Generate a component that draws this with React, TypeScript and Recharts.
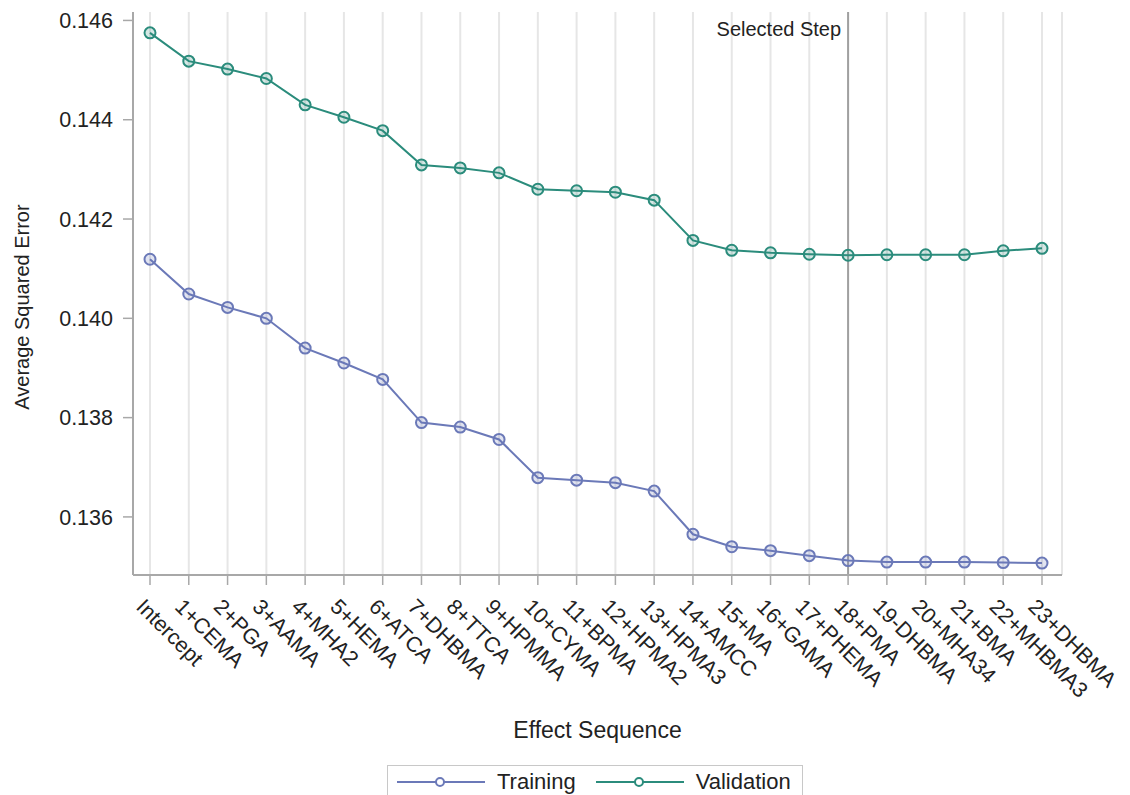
import React from "react";
import {
  LineChart,
  Line,
  XAxis,
  YAxis,
  CartesianGrid,
  ReferenceLine,
  Legend,
} from "recharts";

const effects = [
  "Intercept", "1+CEMA", "2+PGA", "3+AAMA", "4+MHA2", "5+HEMA", "6+ATCA", "7+DHBMA",
  "8+TTCA", "9+HPMMA", "10+CYMA", "11+BPMA", "12+HPMA2", "13+HPMA3", "14+AMCC", "15+MA",
  "16+GAMA", "17+PHEMA", "18+PMA", "19-DHBMA", "20+MHA34", "21+BMA", "22+MHBMA3", "23+DHBMA",
];

const training = [
  0.14119, 0.14049, 0.14022, 0.14000, 0.13940, 0.13910, 0.13877, 0.13790,
  0.13781, 0.13756, 0.13679, 0.13674, 0.13669, 0.13652, 0.13565, 0.13540,
  0.13532, 0.13522, 0.13512, 0.13509, 0.13509, 0.13509, 0.13508, 0.13507,
];

const validation = [
  0.14575, 0.14518, 0.14502, 0.14483, 0.14430, 0.14405, 0.14378, 0.14309,
  0.14303, 0.14293, 0.14260, 0.14257, 0.14254, 0.14238, 0.14157, 0.14137,
  0.14132, 0.14129, 0.14127, 0.14128, 0.14128, 0.14128, 0.14136, 0.14141,
];

const yTicks = [0.136, 0.138, 0.14, 0.142, 0.144, 0.146];
const selectedStep = "18+PMA";

const TRAIN_COLOR = "#6b79b8";
const VALID_COLOR = "#2b8c7c";
const FRAME = "#a8a8a8";
const FONT = '"Liberation Sans", Arial, sans-serif';

const data = effects.map((name, i) => ({
  name,
  training: training[i],
  validation: validation[i],
}));

const AngledTick = ({ x, y, payload }: any) => (
  <g transform={`translate(${x - 15},${y + 21}) rotate(45)`}>
    <text x={0} y={0} textAnchor="start" fill="#222" fontSize={21.5} fontFamily={FONT}>
      {payload.value}
    </text>
  </g>
);

// vertical axis title, centred a little below the plot middle
const YTitle = () => (
  <text
    transform="translate(22,307) rotate(-90)"
    textAnchor="middle"
    dominantBaseline="central"
    fill="#222"
    fontSize={20}
    fontFamily={FONT}
  >
    Average Squared Error
  </text>
);

const LegendMark = ({ color }: { color: string }) => (
  <svg width={88} height={14} style={{ marginRight: 12 }}>
    <line x1={0} y1={7} x2={88} y2={7} stroke={color} strokeWidth={2} />
    <circle cx={43} cy={7} r={4} fill="#fff" stroke={color} strokeWidth={2} />
  </svg>
);

const LegendBox = () => (
  <div
    style={{
      width: 416,
      height: 40,
      border: "1px solid #c8c8c8",
      display: "flex",
      alignItems: "flex-start",
      paddingTop: 3,
      boxSizing: "border-box",
      fontFamily: FONT,
      fontSize: 22,
      color: "#222",
    }}
  >
    <div style={{ display: "flex", alignItems: "center", marginLeft: 9 }}>
      <LegendMark color={TRAIN_COLOR} />
      <span>Training</span>
    </div>
    <div style={{ display: "flex", alignItems: "center", marginLeft: 20 }}>
      <LegendMark color={VALID_COLOR} />
      <span>Validation</span>
    </div>
  </div>
);

const SelectedLabel = ({ viewBox }: any) => (
  <text
    x={viewBox.x - 7}
    y={viewBox.y + 24}
    textAnchor="end"
    fill="#222"
    fontSize={20}
    fontFamily={FONT}
  >
    Selected Step
  </text>
);

export default function App() {
  return (
    <div
      style={{
        position: "fixed",
        left: 0,
        top: 0,
        width: 1130,
        height: 795,
        overflow: "hidden",
        background: "#fff",
      }}
    >
      <LineChart
        width={1130}
        height={795}
        data={data}
        margin={{ top: 12, right: 68, left: 0, bottom: 0 }}
      >
        <CartesianGrid horizontal={false} stroke="#e6e6e6" strokeWidth={2} />
        <XAxis
          dataKey="name"
          height={220}
          padding={{ left: 17, right: 20 }}
          interval={0}
          tick={<AngledTick />}
          tickSize={10}
          tickLine={{ stroke: FRAME, strokeWidth: 1.5 }}
          axisLine={{ stroke: FRAME, strokeWidth: 2 }}
          label={{
            value: "Effect Sequence",
            position: "insideBottom",
            offset: 57,
            fill: "#222",
            fontSize: 23,
            fontFamily: FONT,
          }}
        />
        <XAxis
          xAxisId="top"
          dataKey="name"
          orientation="top"
          height={0}
          padding={{ left: 17, right: 20 }}
          tick={false}
          tickLine={false}
          axisLine={{ stroke: FRAME, strokeWidth: 2 }}
        />
        <YAxis
          width={133}
          domain={[0.13483, 0.14617]}
          ticks={yTicks}
          tickFormatter={(v: number) => v.toFixed(3)}
          tickSize={10}
          tickMargin={10}
          tick={{ fill: "#222", fontSize: 21.5, fontFamily: FONT }}
          tickLine={{ stroke: FRAME, strokeWidth: 1.5 }}
          axisLine={{ stroke: FRAME, strokeWidth: 2 }}
          allowDataOverflow
          label={<YTitle />}
        />
        <YAxis
          yAxisId="right"
          orientation="right"
          width={0}
          tick={false}
          tickLine={false}
          axisLine={{ stroke: FRAME, strokeWidth: 2 }}
        />
        <ReferenceLine
          x={selectedStep}
          stroke="#a0a0a0"
          strokeWidth={2}
          label={<SelectedLabel />}
        />
        <Line
          dataKey="training"
          name="Training"
          stroke={TRAIN_COLOR}
          strokeWidth={2}
          dot={{ r: 5.5, stroke: TRAIN_COLOR, strokeWidth: 2, fill: TRAIN_COLOR, fillOpacity: 0.2 }}
          activeDot={false}
          isAnimationActive={false}
        />
        <Line
          dataKey="validation"
          name="Validation"
          stroke={VALID_COLOR}
          strokeWidth={2}
          dot={{ r: 5.5, stroke: VALID_COLOR, strokeWidth: 2, fill: VALID_COLOR, fillOpacity: 0.2 }}
          activeDot={false}
          isAnimationActive={false}
        />
        <Legend
          layout="vertical"
          verticalAlign="middle"
          align="center"
          content={<LegendBox />}
          wrapperStyle={{ left: 387, top: 765, width: 416, height: 40 }}
        />
      </LineChart>
    </div>
  );
}
